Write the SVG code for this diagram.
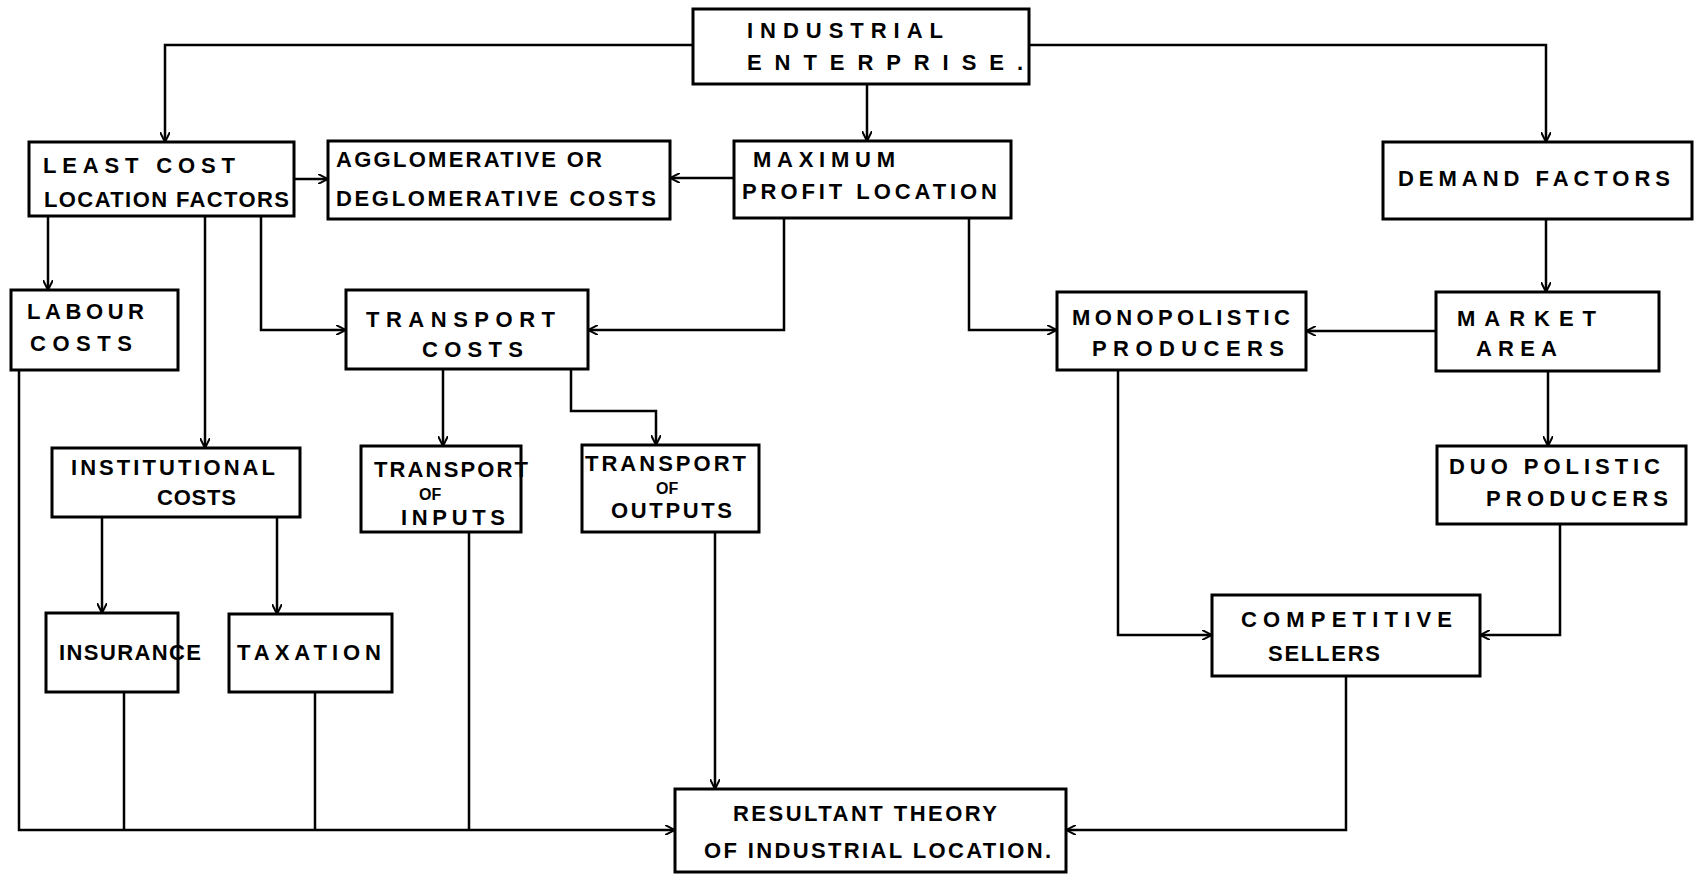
<svg xmlns="http://www.w3.org/2000/svg" width="1695" height="875" viewBox="0 0 1695 875">
<defs>
<style>
.box{fill:#fff;stroke:#000;stroke-width:3}
.c{fill:none;stroke:#000;stroke-width:2.5}
text{font-family:"Liberation Sans",Arial,sans-serif;font-weight:bold;font-size:22px;fill:#000}
text.s{font-size:16px}
</style>
<marker id="a" viewBox="0 0 10 10" refX="10" refY="5" markerWidth="10" markerHeight="10" markerUnits="userSpaceOnUse" orient="auto">
<path d="M0,0 L10,5 L0,10" fill="none" stroke="#000" stroke-width="2"/>
</marker>
</defs>
<rect width="1695" height="875" fill="#fff"/>
<g id="connectors">
<path class="c" d="M693,45 H165 V142" marker-end="url(#a)"/>
<path class="c" d="M1029,45 H1546 V142" marker-end="url(#a)"/>
<path class="c" d="M867,84 V141" marker-end="url(#a)"/>
<path class="c" d="M294,179 H328" marker-end="url(#a)"/>
<path class="c" d="M734,178 H670" marker-end="url(#a)"/>
<path class="c" d="M48,216 V290" marker-end="url(#a)"/>
<path class="c" d="M205,216 V448" marker-end="url(#a)"/>
<path class="c" d="M261,216 V330 H346" marker-end="url(#a)"/>
<path class="c" d="M784,218 V330 H588" marker-end="url(#a)"/>
<path class="c" d="M969,218 V330 H1057" marker-end="url(#a)"/>
<path class="c" d="M1546,219 V292" marker-end="url(#a)"/>
<path class="c" d="M1436,331 H1306" marker-end="url(#a)"/>
<path class="c" d="M443,369 V446" marker-end="url(#a)"/>
<path class="c" d="M571,369 V411 H656 V445" marker-end="url(#a)"/>
<path class="c" d="M1548,371 V446" marker-end="url(#a)"/>
<path class="c" d="M102,517 V613" marker-end="url(#a)"/>
<path class="c" d="M277,517 V614" marker-end="url(#a)"/>
<path class="c" d="M1118,370 V635 H1212" marker-end="url(#a)"/>
<path class="c" d="M1560,524 V635 H1480" marker-end="url(#a)"/>
<path class="c" d="M19,370 V830 H675" marker-end="url(#a)"/>
<path class="c" d="M124,692 V830"/>
<path class="c" d="M315,692 V830"/>
<path class="c" d="M469,532 V830"/>
<path class="c" d="M715,532 V789" marker-end="url(#a)"/>
<path class="c" d="M1346,676 V830 H1066" marker-end="url(#a)"/>
</g>
<g id="industrial">
<rect class="box" x="693" y="9" width="336" height="75"/>
<text x="747" y="38" textLength="196">INDUSTRIAL</text>
<text x="747" y="70" textLength="276">ENTERPRISE.</text>
</g>
<g id="leastcost">
<rect class="box" x="29" y="142" width="265" height="74"/>
<text x="43" y="173" textLength="192">LEAST COST</text>
<text x="44" y="207" textLength="245">LOCATION FACTORS</text>
</g>
<g id="agglomerative">
<rect class="box" x="328" y="141" width="342" height="78"/>
<text x="336" y="167" textLength="266">AGGLOMERATIVE  OR</text>
<text x="336" y="206" textLength="320">DEGLOMERATIVE COSTS</text>
</g>
<g id="maximum">
<rect class="box" x="734" y="141" width="277" height="77"/>
<text x="753" y="167" textLength="142">MAXIMUM</text>
<text x="742" y="199" textLength="255">PROFIT LOCATION</text>
</g>
<g id="demand">
<rect class="box" x="1383" y="142" width="309" height="77"/>
<text x="1398" y="186" textLength="272">DEMAND FACTORS</text>
</g>
<g id="labour">
<rect class="box" x="11" y="290" width="167" height="80"/>
<text x="27" y="319" textLength="117">LABOUR</text>
<text x="30" y="351" textLength="102">COSTS</text>
</g>
<g id="transport">
<rect class="box" x="346" y="290" width="242" height="79"/>
<text x="366" y="327" textLength="189">TRANSPORT</text>
<text x="422" y="357" textLength="101">COSTS</text>
</g>
<g id="monopolistic">
<rect class="box" x="1057" y="292" width="249" height="78"/>
<text x="1072" y="325" textLength="218">MONOPOLISTIC</text>
<text x="1092" y="356" textLength="192">PRODUCERS</text>
</g>
<g id="market">
<rect class="box" x="1436" y="292" width="223" height="79"/>
<text x="1457" y="326" textLength="139">MARKET</text>
<text x="1476" y="356" textLength="81">AREA</text>
</g>
<g id="institutional">
<rect class="box" x="52" y="448" width="248" height="69"/>
<text x="71" y="475" textLength="204">INSTITUTIONAL</text>
<text x="157" y="505" textLength="79">COSTS</text>
</g>
<g id="inputs">
<rect class="box" x="361" y="446" width="160" height="86"/>
<text x="374" y="477" textLength="154">TRANSPORT</text>
<text class="s" x="419" y="500">OF</text>
<text x="401" y="525" textLength="104">INPUTS</text>
</g>
<g id="outputs">
<rect class="box" x="582" y="445" width="177" height="87"/>
<text x="585" y="471" textLength="161">TRANSPORT</text>
<text class="s" x="656" y="494">OF</text>
<text x="611" y="518" textLength="121">OUTPUTS</text>
</g>
<g id="duopolistic">
<rect class="box" x="1437" y="446" width="249" height="78"/>
<text x="1449" y="474" textLength="211">DUO POLISTIC</text>
<text x="1486" y="506" textLength="182">PRODUCERS</text>
</g>
<g id="insurance">
<rect class="box" x="46" y="613" width="132" height="79"/>
<text x="59" y="660" textLength="142">INSURANCE</text>
</g>
<g id="taxation">
<rect class="box" x="229" y="614" width="163" height="78"/>
<text x="237" y="660" textLength="144">TAXATION</text>
</g>
<g id="competitive">
<rect class="box" x="1212" y="595" width="268" height="81"/>
<text x="1241" y="627" textLength="211">COMPETITIVE</text>
<text x="1268" y="661" textLength="112">SELLERS</text>
</g>
<g id="resultant">
<rect class="box" x="675" y="789" width="391" height="83"/>
<text x="733" y="821" textLength="264">RESULTANT THEORY</text>
<text x="704" y="858" textLength="347">OF INDUSTRIAL LOCATION.</text>
</g>
</svg>
